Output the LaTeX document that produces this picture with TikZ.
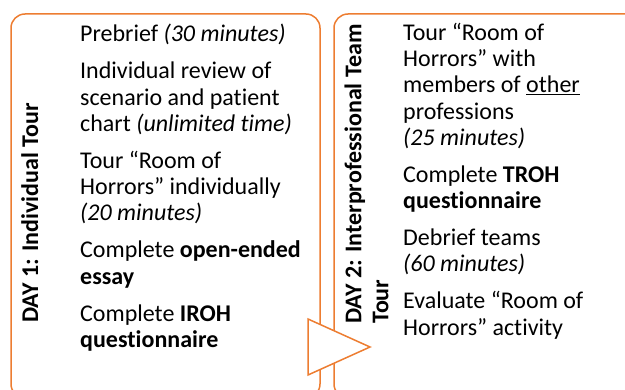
\documentclass[tikz,border=0pt]{standalone}
\usepackage{fontspec}
\setmainfont{Carlito}[Ligatures=NoCommon]
\usetikzlibrary{positioning}
\definecolor{tourorange}{HTML}{ED7D31}
\begin{document}
\begin{tikzpicture}[x=1pt,y=-1pt]
\tikzset{panel/.style={draw=tourorange,line width=1.5pt,rounded corners=14pt},
  item/.style={inner sep=0pt,align=left,font=\fontsize{24}{26.3}\selectfont},
  daylabel/.style={inner sep=0pt,align=left,rotate=90,anchor=base west,font=\fontsize{24}{27}\selectfont\bfseries}}
\useasboundingbox (0,0) rectangle (625,390);
\clip (0,0) rectangle (625,390);
\draw[panel] (11,14) rectangle (320,398);
\draw[panel] (334,14) rectangle (660,398);
\draw[draw=tourorange,line width=1.5pt,fill=white] (308,319) -- (370,347) -- (308,375) -- cycle;
\node[daylabel] (day1) at (38,323) {DAY 1: Individual Tour};
\node[daylabel] (day2) at (388.3,324) {DAY 2: Interprofessional Team\\Tour};
\node[item,anchor=north west] (l1) at (80,23.3) {\strut Prebrief \textit{(30 minutes)}};
\node[item,below=10.2pt of l1.south west,anchor=north west] (l2) {\strut Individual review of\\scenario and patient\\chart \textit{(unlimited time)}\strut};
\node[item,below=10.2pt of l2.south west,anchor=north west] (l3) {\strut Tour “Room of\\Horrors” individually\\\textit{(20 minutes)}\strut};
\node[item,below=10.2pt of l3.south west,anchor=north west] (l4) {\strut Complete \textbf{open-ended}\\\textbf{essay}\strut};
\node[item,below=10.2pt of l4.south west,anchor=north west] (l5) {\strut Complete \textbf{IROH}\\\textbf{questionnaire}\strut};
\node[item,anchor=north west] (r1) at (403,21.6) {\strut Tour “Room of\\Horrors” with\\members of \underline{other}\\professions\\\textit{(25 minutes)}\strut};
\node[item,below=10.2pt of r1.south west,anchor=north west] (r2) {\strut Complete \textbf{TROH}\\\textbf{questionnaire}\strut};
\node[item,below=10.2pt of r2.south west,anchor=north west] (r3) {\strut Debrief teams\\\textit{(60 minutes)}\strut};
\node[item,below=10.2pt of r3.south west,anchor=north west] (r4) {\strut Evaluate “Room of\\Horrors” activity\strut};
\end{tikzpicture}
\end{document}
